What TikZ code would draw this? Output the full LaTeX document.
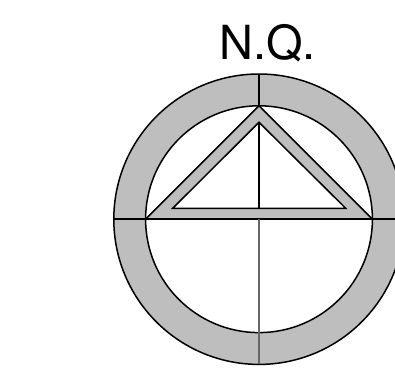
\documentclass[tikz,border=0pt]{standalone}
\usepackage{fontspec}
\newfontfamily\titlefont{TeX Gyre Heros}
\definecolor{ringgray}{HTML}{BEBEBE}
\tikzset{
  shape line/.style={draw=black,line width=1.5pt,line join=miter},
  band/.style={shape line,fill=ringgray,even odd rule},
  thin rule/.style={draw=black!60,line width=1.5pt},
}
\begin{document}
\begin{tikzpicture}[x=1pt,y=-1pt]
\useasboundingbox (0,0) rectangle (395,369);
\fill[white] (0,0) rectangle (395,369);
\coordinate (c) at (259,219.2);
\path[band] (c) circle[radius=145.2] (c) circle[radius=113.4];
% triangle band
\path[band] (145.6,219.2) -- (259,105.8) -- (372.4,219.2) -- cycle
  (172.7,208.3) -- (259,122.3) -- (345.7,208.3) -- cycle;
% axes
\draw[shape line] (113.8,219.2) -- (404.2,219.2);
\draw[shape line] (259,74) -- (259,105.8);
\draw[shape line] (259,122.3) -- (259,208.3);
\draw[thin rule] (259,219.2) -- (259,364.4);
\node[inner sep=0pt,anchor=base,font=\titlefont\fontsize{47}{50}\selectfont] (title) at (267.5,59.5) {N.Q.};
\end{tikzpicture}
\end{document}
